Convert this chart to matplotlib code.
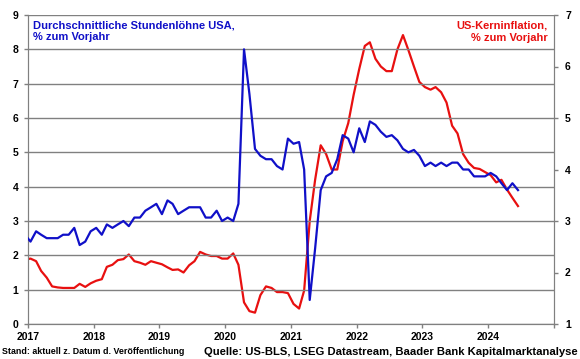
import pandas as pd
import matplotlib
matplotlib.use('Agg')
import matplotlib.pyplot as plt
import matplotlib.dates as mdates

plt.rcParams['font.family'] = ['Liberation Sans', 'DejaVu Sans']
plt.rcParams['font.weight'] = 'bold'

# monthly, Dec 2016 .. Jun 2024
months = pd.date_range('2016-12-01', '2024-06-01', freq='MS') + pd.Timedelta(days=14)

# average hourly earnings, % yoy (left axis)
wages = [2.6,
         2.4, 2.7, 2.6, 2.5, 2.5, 2.5, 2.6, 2.6, 2.8, 2.3, 2.4, 2.7,
         2.8, 2.6, 2.9, 2.8, 2.9, 3.0, 2.85, 3.1, 3.1, 3.3, 3.4, 3.5,
         3.2, 3.6, 3.5, 3.2, 3.3, 3.4, 3.4, 3.4, 3.1, 3.1, 3.3, 3.0,
         3.1, 3.0, 3.5, 8.0, 6.7, 5.1, 4.9, 4.8, 4.8, 4.6, 4.5, 5.4,
         5.25, 5.3, 4.5, 0.7, 2.2, 3.9, 4.3, 4.4, 4.8, 5.5, 5.4, 5.0,
         5.7, 5.3, 5.9, 5.8, 5.6, 5.45, 5.5, 5.35, 5.1, 5.0, 5.07, 4.9,
         4.6, 4.7, 4.6, 4.7, 4.6, 4.7, 4.7, 4.5, 4.5, 4.3, 4.3, 4.3,
         4.4, 4.3, 4.1, 3.9, 4.1, 3.9]

# US core inflation, % yoy (right axis)
core = [2.25,
        2.27, 2.22, 2.03, 1.9, 1.73, 1.71, 1.7, 1.7, 1.7, 1.78, 1.72, 1.79,
        1.84, 1.87, 2.11, 2.15, 2.24, 2.26, 2.35, 2.22, 2.19, 2.15, 2.22, 2.19,
        2.16, 2.1, 2.05, 2.06, 2.0, 2.14, 2.22, 2.4, 2.35, 2.32, 2.32, 2.27,
        2.27, 2.37, 2.15, 1.42, 1.25, 1.22, 1.56, 1.73, 1.7, 1.62, 1.62, 1.6,
        1.39, 1.3, 1.65, 3.0, 3.8, 4.47, 4.3, 4.0, 4.0, 4.55, 4.9, 5.45,
        5.95, 6.4, 6.47, 6.15, 6.0, 5.91, 5.91, 6.33, 6.61, 6.32, 6.0, 5.7,
        5.6, 5.55, 5.6, 5.5, 5.3, 4.85, 4.7, 4.3, 4.13, 4.03, 4.01, 3.95,
        3.89, 3.75, 3.8, 3.61, 3.45, 3.29]

years = list(range(2017, 2026))
year_labels = [str(y) for y in years[:-1]] + ['']
left_ticks = list(range(0, 10))
right_ticks = list(range(1, 8))

fig = plt.figure(figsize=(5.8, 3.59), dpi=100)
ax = fig.add_axes([28 / 580, 1 - 324 / 359, 526 / 580, 309 / 359])
ax2 = ax.twinx()

grid_c = '#808080'
ax.set_ylim(0, 9)
ax.set_yticks(left_ticks)
ax.yaxis.grid(True, color=grid_c, lw=1)
ax.set_axisbelow(True)
ax2.set_ylim(1, 7)
ax2.set_yticks(right_ticks)

ax.set_xlim(pd.Timestamp('2017-01-01'), pd.Timestamp('2025-01-01'))
ax.set_xticks([pd.Timestamp(f'{y}-01-01') for y in years])
ax.set_xticklabels(year_labels)

ax.plot(months, wages, color='#1010c8', lw=1.6, zorder=3)
ax2.plot(months, core, color='#e81010', lw=1.6, zorder=3)
ax.set_zorder(ax2.get_zorder() + 1)
ax.patch.set_visible(False)

for a in (ax, ax2):
    for s in a.spines.values():
        s.set_color(grid_c)
    a.spines['top'].set_visible(False)
    a.tick_params(colors=grid_c, labelcolor='black', labelsize=7.5,
                  length=3, width=1, direction='out')
ax.tick_params(axis='y', pad=4)
ax2.tick_params(axis='y', pad=5)
ax.tick_params(axis='x', pad=3)
for lab in ax.get_xticklabels() + ax.get_yticklabels() + ax2.get_yticklabels():
    lab.set_fontweight('bold')

fig.text(33 / 580, 1 - 20 / 359, 'Durchschnittliche Stundenlöhne USA,\n% zum Vorjahr',
         color='#1010c8', fontsize=8, fontweight='bold', ha='left', va='top',
         linespacing=1.3)
fig.text(548 / 580, 1 - 21 / 359, 'US-Kerninflation,\n% zum Vorjahr',
         color='#e81010', fontsize=8, fontweight='bold', ha='right', va='top',
         linespacing=1.3, multialignment='right')
fig.text(2 / 580, 1 - 352 / 359, 'Stand: aktuell z. Datum d. Veröffentlichung',
         fontsize=6.4, fontweight='bold', ha='left', va='center')
fig.text(578 / 580, 1 - 352 / 359,
         'Quelle: US-BLS, LSEG Datastream, Baader Bank Kapitalmarktanalyse',
         fontsize=8.1, fontweight='bold', ha='right', va='center')

fig.savefig('out.png', dpi=100)
